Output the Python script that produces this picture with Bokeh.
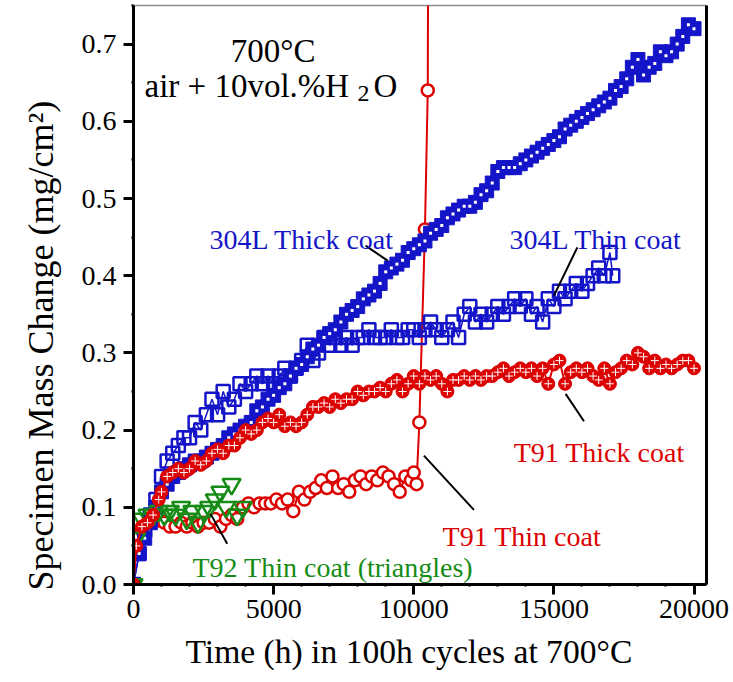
from bokeh.plotting import figure
from bokeh.models import Range1d, FixedTicker, NumeralTickFormatter, BasicTickFormatter, LinearAxis, Label, Title
from bokeh.embed import file_html
from bokeh.resources import INLINE

# ---------------- data ----------------
t_304L_thick = [0, 200, 400, 600, 800, 1000, 1200, 1400, 1600, 1800, 2000, 2200, 2400, 2600, 2800,
                3000, 3200, 3400, 3600, 3800, 4000, 4200, 4400, 4600, 4800, 5000, 5200, 5400, 5600,
                5800, 6000, 6200, 6400, 6600, 6800, 7000, 7200, 7400, 7600, 7800, 8000, 8200, 8400,
                8600, 8800, 9000, 9200, 9400, 9600, 9800, 10000, 10200, 10400, 10600, 10800, 11000,
                11200, 11400, 11600, 11800, 12000, 12200, 12400, 12600, 12800, 13000, 13200, 13400,
                13600, 13800, 14000, 14200, 14400, 14600, 14800, 15000, 15200, 15400, 15600, 15800,
                16000, 16200, 16400, 16600, 16800, 17000, 17200, 17400, 17600, 17800, 18000, 18200,
                18400, 18600, 18800, 19000, 19200, 19400, 19600, 19800, 20000]
m_304L_thick = [0.0, 0.04, 0.06, 0.08, 0.10, 0.12, 0.13, 0.14, 0.145, 0.15, 0.155, 0.16, 0.16, 0.165, 0.17,
                0.175, 0.18, 0.19, 0.195, 0.20, 0.205, 0.21, 0.225, 0.23, 0.24, 0.245, 0.255, 0.26, 0.27,
                0.28, 0.285, 0.295, 0.305, 0.31, 0.32, 0.325, 0.33, 0.34, 0.35, 0.355, 0.36, 0.37, 0.375,
                0.38, 0.39, 0.405, 0.41, 0.415, 0.42, 0.43, 0.435, 0.44, 0.445, 0.455, 0.46, 0.465,
                0.475, 0.48, 0.485, 0.49, 0.49, 0.495, 0.505, 0.51, 0.52, 0.535, 0.54, 0.54,
                0.54, 0.545, 0.55, 0.555, 0.56, 0.565, 0.57, 0.575, 0.58, 0.59, 0.595, 0.60,
                0.605, 0.61, 0.615, 0.62, 0.625, 0.63, 0.64, 0.645, 0.655, 0.67, 0.68, 0.66,
                0.67, 0.675, 0.69, 0.685, 0.69, 0.70, 0.71, 0.725, 0.72]

t_304L_thin = [0, 200, 400, 600, 800, 1000, 1200, 1400, 1600, 1800, 2000, 2200, 2400, 2600, 2800,
               3000, 3200, 3400, 3600, 3800, 4000, 4200, 4400, 4600, 4800, 5000, 5200, 5400, 5600,
               5800, 6000, 6200, 6400, 6600, 6800, 7000, 7200, 7400, 7600, 7800, 8000, 8200, 8400,
               8600, 8800, 9000, 9200, 9400, 9600, 9800, 10000, 10200, 10400, 10600, 10800, 11000,
               11200, 11400, 11600, 11800, 12000, 12200, 12400, 12600, 12800, 13000, 13200, 13400,
               13600, 13800, 14000, 14200, 14400, 14600, 14800, 15000, 15200, 15400, 15600, 15800,
               16000, 16200, 16400, 16600, 16800, 17000, 17100]
m_304L_thin = [0.0, 0.04, 0.07, 0.09, 0.11, 0.14, 0.16, 0.17, 0.18, 0.19, 0.19, 0.21, 0.20, 0.22, 0.24,
               0.22, 0.25, 0.23, 0.24, 0.26, 0.25, 0.26, 0.27, 0.26, 0.27, 0.26, 0.27, 0.28, 0.27,
               0.28, 0.29, 0.31, 0.29, 0.30, 0.32, 0.31, 0.32, 0.31, 0.32, 0.31, 0.32, 0.32, 0.33,
               0.32, 0.32, 0.32, 0.33, 0.32, 0.32, 0.33, 0.33, 0.32, 0.33, 0.34, 0.33, 0.32,
               0.33, 0.34, 0.32, 0.35, 0.36, 0.34, 0.35, 0.34, 0.35, 0.36, 0.35, 0.36,
               0.37, 0.36, 0.37, 0.35, 0.36, 0.34, 0.37, 0.36, 0.38, 0.37, 0.38, 0.39,
               0.38, 0.39, 0.40, 0.41, 0.40, 0.43, 0.40]

t_T91_thick = [0, 100, 300, 500, 700, 900, 1000, 1200, 1400, 1600, 1800, 2000, 2200, 2400, 2600, 2800,
               3000, 3200, 3400, 3600, 3800, 4000, 4200, 4400, 4600, 4800, 5000, 5200, 5400, 5600,
               5800, 6000, 6200, 6400, 6600, 6800, 7000, 7200, 7400, 7600, 7800, 8000, 8200, 8400,
               8600, 8800, 9000, 9200, 9400, 9600, 9800, 10000, 10200, 10400, 10600, 10800, 11000,
               11200, 11400, 11600, 11800, 12000, 12200, 12400, 12600, 12800, 13000, 13200, 13400,
               13600, 13800, 14000, 14200, 14400, 14600, 14800, 15000, 15200, 15400, 15600, 15800,
               16000, 16200, 16400, 16600, 16800, 17000, 17200, 17400, 17600, 17800, 18000, 18200,
               18400, 18600, 18800, 19000, 19200, 19400, 19600, 19800, 20000]
m_T91_thick = [0.0, 0.05, 0.075, 0.08, 0.09, 0.11, 0.12, 0.14, 0.145, 0.15, 0.145, 0.15, 0.16, 0.155, 0.16, 0.17,
               0.175, 0.17, 0.18, 0.18, 0.19, 0.20, 0.195, 0.20, 0.21, 0.215, 0.21, 0.22, 0.205, 0.21,
               0.205, 0.21, 0.22, 0.23, 0.23, 0.235, 0.23, 0.24, 0.235, 0.24, 0.24, 0.25, 0.245, 0.25,
               0.25, 0.255, 0.25, 0.26, 0.265, 0.25, 0.26, 0.27, 0.26, 0.27, 0.265, 0.27, 0.26,
               0.25, 0.265, 0.265, 0.27, 0.265, 0.27, 0.265, 0.27, 0.27, 0.275, 0.28, 0.27,
               0.275, 0.28, 0.275, 0.28, 0.27, 0.28, 0.26, 0.285, 0.29, 0.26, 0.275, 0.28,
               0.275, 0.28, 0.27, 0.265, 0.28, 0.26, 0.275, 0.28, 0.29, 0.285, 0.30, 0.295,
               0.28, 0.29, 0.28, 0.285, 0.28, 0.285, 0.29, 0.29, 0.28]

t_T91_thin = [0, 100, 300, 500, 700, 900, 1100, 1300, 1500, 1700, 1900, 2100, 2300, 2500, 2700, 2900,
              3100, 3300, 3500, 3700, 3900, 4100, 4300, 4500, 4700, 4900, 5100, 5300, 5500, 5700,
              5900, 6100, 6300, 6500, 6700, 6900, 7100, 7300, 7500, 7700, 7900, 8100, 8300, 8500,
              8700, 8900, 9100, 9300, 9500, 9700, 9900, 10000, 10100, 10200, 10400, 10500, 10600]
m_T91_thin = [0.0, 0.05, 0.07, 0.08, 0.08, 0.085, 0.08, 0.075, 0.075, 0.08, 0.075, 0.08, 0.075, 0.08, 0.08, 0.085,
              0.075, 0.085, 0.09, 0.085, 0.10, 0.105, 0.10, 0.105, 0.105, 0.105, 0.11, 0.105, 0.11, 0.095,
              0.12, 0.11, 0.12, 0.125, 0.135, 0.125, 0.14, 0.125, 0.13, 0.12, 0.135, 0.14, 0.13, 0.14,
              0.135, 0.145, 0.14, 0.13, 0.12, 0.14, 0.135, 0.145, 0.13, 0.21, 0.46, 0.64, 2.0]

t_T92_thin = [0, 100, 300, 500, 700, 900, 1100, 1300, 1500, 1700, 1900, 2100, 2300, 2500, 2700, 2900,
              3100, 3300, 3500, 3700, 3900]
m_T92_thin = [0.0, 0.06, 0.085, 0.09, 0.09, 0.095, 0.09, 0.095, 0.09, 0.10, 0.085, 0.095, 0.08, 0.095, 0.10, 0.11,
              0.12, 0.10, 0.13, 0.09, 0.10]

x_ticks = [0, 5000, 10000, 15000, 20000]
y_ticks = [0.0, 0.1, 0.2, 0.3, 0.4, 0.5, 0.6, 0.7]

x_title = "Time (h) in 100h cycles at 700°C"
y_title = "Specimen Mass Change (mg/cm²)"

# ---------------- styles ----------------
BLUE = "#1414c8"
RED = "#dc0000"
GREEN = "#168c16"
FONT = "Liberation Serif"

p = figure(width=733, height=682, output_backend="svg", toolbar_location=None,
           x_range=Range1d(0, 20446), y_range=Range1d(0, 0.75),
           min_border_left=133, min_border_right=27, min_border_top=5, min_border_bottom=98)
p.background_fill_color = "white"
p.border_fill_color = "white"
p.outline_line_color = "#8c8c8c"
p.outline_line_width = 1.5
p.xgrid.visible = False
p.ygrid.visible = False

# axes
p.xaxis.ticker = FixedTicker(ticks=x_ticks, minor_ticks=list(range(0, 20001, 1000)))
p.yaxis.ticker = FixedTicker(ticks=y_ticks, minor_ticks=[0.05 * i for i in range(0, 16)])
p.xaxis.formatter = BasicTickFormatter(use_scientific=False)
p.yaxis.formatter = NumeralTickFormatter(format="0.0")
for ax in (p.xaxis[0], p.yaxis[0]):
    ax.axis_line_width = 3
    ax.axis_line_color = "black"
    ax.major_tick_line_width = 3
    ax.major_tick_out = 10
    ax.major_tick_in = 0
    ax.minor_tick_line_width = 2.5
    ax.minor_tick_out = 2
    ax.minor_tick_in = 0
    ax.major_label_text_font = FONT
    ax.major_label_text_font_size = "28px"
    ax.major_label_text_color = "black"
p.xaxis.major_label_standoff = 5
p.yaxis.major_label_standoff = 7

right = LinearAxis(axis_line_width=3, axis_line_color="black",
                   major_tick_out=0, major_tick_in=0, minor_tick_out=0, minor_tick_in=0,
                   major_label_text_font_size="0px", ticker=FixedTicker(ticks=[]))
p.add_layout(right, "right")

# axis titles as side-panel titles (allow the reference's off-centre placement)
p.add_layout(Title(text=x_title, align="left", offset=52, standoff=20,
                   text_font=FONT, text_font_size="33.6px", text_font_style="normal",
                   text_color="black"), "below")
p.add_layout(Title(text=y_title, align="left", offset=-6, standoff=36,
                   text_font=FONT, text_font_size="36px", text_font_style="normal",
                   text_color="black"), "left")

# ---------------- series ----------------
# T91 thin coat: open red circles with line
p.line(t_T91_thin, m_T91_thin, line_color=RED, line_width=2)
p.scatter(t_T91_thin, m_T91_thin, marker="circle", size=12, fill_color="white",
          line_color=RED, line_width=2.5)

# 304L thin coat: open blue squares
p.line(t_304L_thin, m_304L_thin, line_color=BLUE, line_width=1.5)
p.scatter(t_304L_thin, m_304L_thin, marker="square", size=13, fill_color="white",
          fill_alpha=0.0, line_color=BLUE, line_width=2.5)

# 304L thick coat: filled blue squares with white dot
p.line(t_304L_thick, m_304L_thick, line_color=BLUE, line_width=1.5)
p.scatter(t_304L_thick, m_304L_thick, marker="square", size=14, fill_color=BLUE,
          line_color=BLUE, line_width=1)
p.scatter(t_304L_thick, m_304L_thick, marker="square", size=3, fill_color="white",
          line_color=None)

# T92 thin coat: open green down-triangles
p.scatter(t_T92_thin, m_T92_thin, marker="inverted_triangle", size=18, fill_color="white",
          fill_alpha=0.0, line_color=GREEN, line_width=2.5)

# T91 thick coat: filled red circles with white cross
p.line(t_T91_thick, m_T91_thick, line_color=RED, line_width=2)
p.scatter(t_T91_thick, m_T91_thick, marker="circle", size=13, fill_color=RED,
          line_color=RED, line_width=1)
p.scatter(t_T91_thick, m_T91_thick, marker="cross", size=8, line_color="white",
          line_width=1)

# ---------------- annotations ----------------
def lab(x, y, text, color="black", size="28px", align="left"):
    p.add_layout(Label(x=x, y=y, text=text, text_font=FONT, text_font_size=size,
                       text_color=color, text_align=align, text_baseline="alphabetic"))

lab(4980, 0.6914, "700°C", size="33px", align="center")
lab(393, 0.646, "air + 10vol.%H", size="33px")
lab(7996, 0.6357, "2", size="24px")
lab(8567, 0.646, "O", size="33px")

lab(2713, 0.4467, "304L Thick coat", color=BLUE)
lab(13421, 0.4467, "304L Thin coat", color=BLUE)
lab(13564, 0.1709, "T91 Thick coat", color=RED)
lab(11030, 0.0621, "T91 Thin coat", color=RED)
lab(2106, 0.022, "T92 Thin coat (triangles)", color=GREEN)

p.segment(x0=[8281, 15837, 15420, 10362, 2749], y0=[0.4389, 0.4367, 0.2469, 0.167, 0.0915],
          x1=[9067, 15003, 16074, 12147, 3344], y1=[0.4195, 0.3742, 0.2114, 0.0967, 0.0527],
          line_color="black", line_width=2)

open("out.html", "w").write(file_html(p, INLINE))
